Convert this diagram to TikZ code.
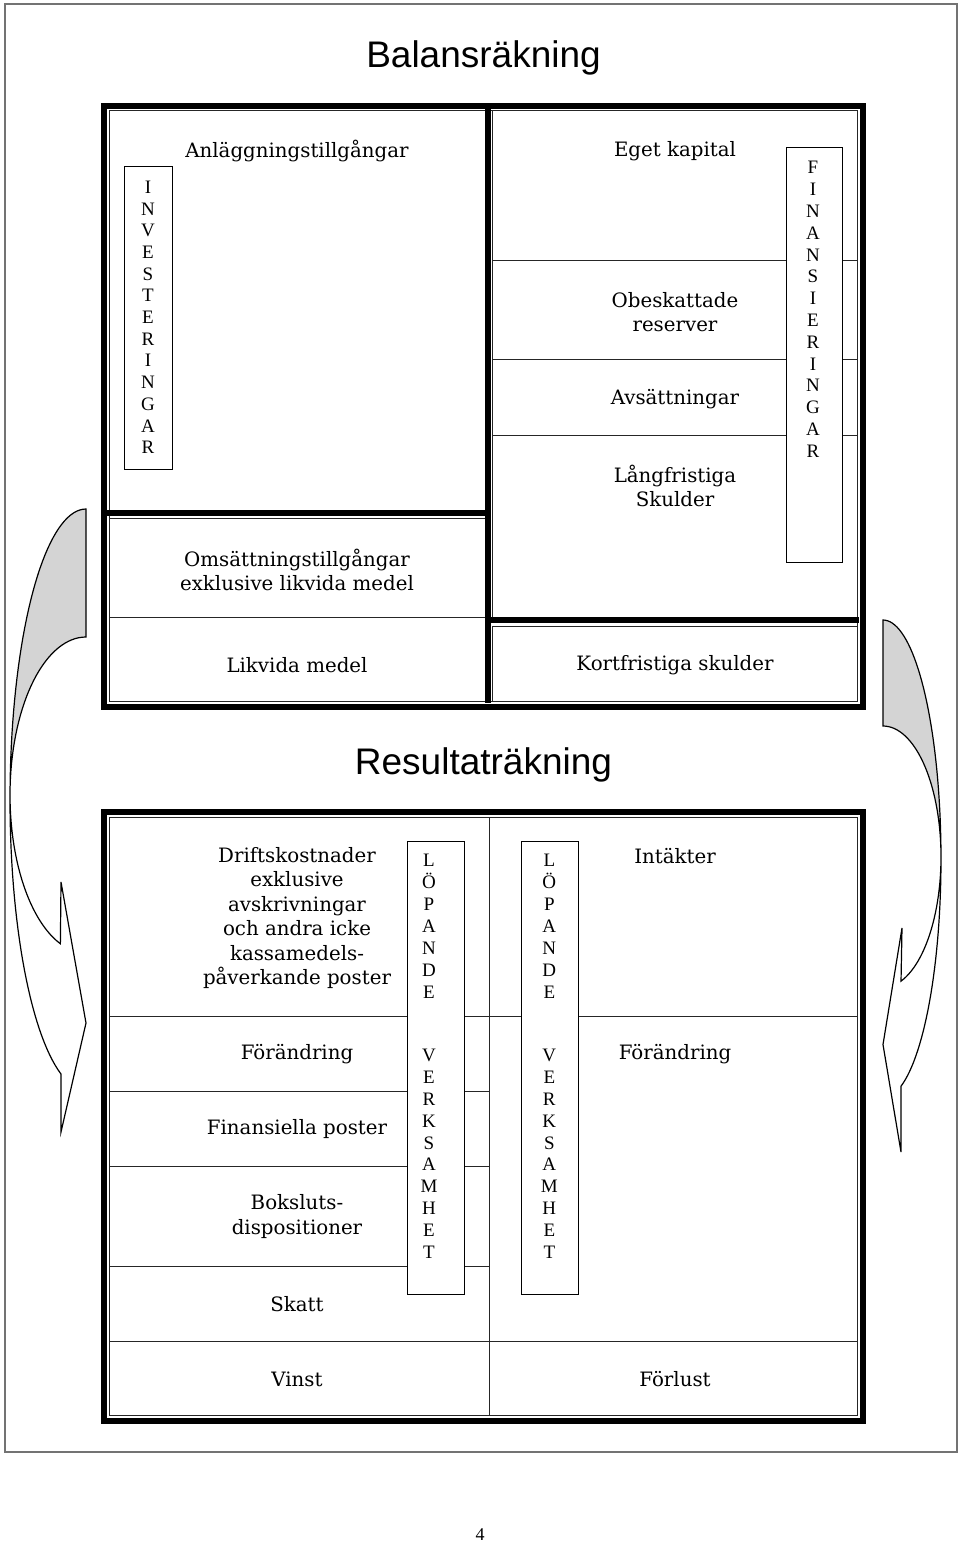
\documentclass[tikz,border=0pt]{standalone}
\usepackage{fontspec}
\setmainfont{DejaVu Serif}
\newfontfamily\headfont{Liberation Sans}
\newfontfamily\stackfont{Liberation Serif}
\tikzset{
  pageframe/.style={line width=1.5pt,black!55},
  thickrule/.style={line width=6pt,line join=miter},
  thinrule/.style={line width=0.9pt,black!85},
  cell/.style={font=\fontsize{19.8}{24.5}\selectfont,align=center,inner sep=0pt},
  heading/.style={font=\headfont\fontsize{37}{44}\selectfont,inner sep=0pt,anchor=base},
  stackbox/.style={draw,fill=white,line width=0.9pt},
  letter/.style={font=\stackfont\fontsize{19}{22}\selectfont,inner sep=0pt,anchor=base},
  bendarrow/.style={line width=1.2pt,line join=miter},
  arrowback/.style={fill=black!17},
}

\begin{document}
\begin{tikzpicture}[x=1pt,y=-1pt]
  \useasboundingbox (0,0) rectangle (960,1545);
  \draw[pageframe] (5,4) rectangle (957,1452);

  % ---- Balansräkning ----
  \node[heading] (titleBR) at (483.5,67) {Balansräkning};
  % thin inner rules
  \draw[thinrule] (109,110) -- (857,110) -- (857,701) -- (109,701) -- cycle;
  \draw[thinrule] (109,518) -- (485,518);
  \draw[thinrule] (109,617) -- (485,617);
  \draw[thinrule] (492.5,110) -- (492.5,617);
  \draw[thinrule] (492.5,626) -- (492.5,701) (492.5,626) -- (857,626);
  \foreach \y in {260,359.5,435}
    \draw[thinrule] (492.5,\y) -- (857,\y);
  % thick rules
  \draw[thickrule] (104,105.5) rectangle (862.5,706.5);
  \draw[thickrule] (487.5,108) -- (487.5,703);
  \draw[thickrule] (107,512.5) -- (485,512.5);
  \draw[thickrule] (490,620) -- (859,620);

  \node[cell] (anl)    at (297,151)   {Anläggningstillgångar};
  \node[cell] (eget)   at (675,151)   {Eget kapital};
  \node[cell] (obesk)  at (675,312)   {Obeskattade\\reserver};
  \node[cell] (avs)    at (675,399)   {Avsättningar};
  \node[cell] (langfr) at (675,486)   {Långfristiga\\Skulder};
  \node[cell] (omsatt) at (297,570)   {Omsättningstillgångar\\exklusive likvida medel};
  \node[cell] (likv)   at (297,665)   {Likvida medel};
  \node[cell] (kortfr) at (675,665)   {Kortfristiga skulder};

  % vertical letter boxes
  \draw[stackbox] (124,166.7) rectangle (172,469.3);
  \foreach \ch [count=\i] in {I,N,V,E,S,T,E,R,I,N,G,A,R}
    \node[letter] (inv\i) at (148,{193.3+21.7*(\i-1)}) {\ch};
  \draw[stackbox] (786,147.3) rectangle (842,562);
  \foreach \ch [count=\i] in {F,I,N,A,N,S,I,E,R,I,N,G,A,R}
    \node[letter] (fin\i) at (813,{173.9+21.8*(\i-1)}) {\ch};

  % ---- Resultaträkning ----
  \node[heading] (titleRR) at (483.5,774) {Resultaträkning};
  \draw[thinrule] (109,817) -- (857,817) -- (857,1415) -- (109,1415) -- cycle;
  \draw[thinrule] (489,817) -- (489,1415);
  \foreach \y in {1016,1341}
    \draw[thinrule] (109,\y) -- (857,\y);
  \foreach \y in {1091,1166,1266}
    \draw[thinrule] (109,\y) -- (489,\y);
  \draw[thickrule] (104,811.5) rectangle (863,1420.5);

  \node[cell] (drift)   at (297,918)    {Driftskostnader\\exklusive\\avskrivningar\\och andra icke\\kassamedels-\\påverkande poster};
  \node[cell] (intakt)  at (675,856)    {Intäkter};
  \node[cell] (forandL) at (297,1054)   {Förändring};
  \node[cell] (forandR) at (675,1054)   {Förändring};
  \node[cell] (finpost) at (297,1129)   {Finansiella poster};
  \node[cell] (boksl)   at (297,1216.5) {Boksluts-\\dispositioner};
  \node[cell] (skatt)   at (297,1304)   {Skatt};
  \node[cell] (vinst)   at (297,1379)   {Vinst};
  \node[cell] (forlust) at (675,1379)   {Förlust};

  % box centre / letter column
  \foreach \bx/\lx [count=\k] in {435.5/429,549.5/549.3}{
    \draw[stackbox] (\bx-28.5,841) rectangle (\bx+28.5,1294);
    \foreach \ch [count=\i] in {L,Ö,P,A,N,D,E}
      \node[letter] (lop\k\i) at (\lx,{866.6+21.95*(\i-1)}) {\ch};
    \foreach \ch [count=\i] in {V,E,R,K,S,A,M,H,E,T}
      \node[letter] (verk\k\i) at (\lx,{1061.6+21.85*(\i-1)}) {\ch};
  }

  % ---- return arrows ----
  % left: tail at top, head pointing right at the bottom
  \fill[arrowback] plot[domain=270:180,samples=40,variable=\t] ({86+76*cos(\t)},{799.6+290.6*sin(\t)})
    -- plot[domain=180:270,samples=40,variable=\t] ({86+76*cos(\t)},{795+158*sin(\t)}) -- cycle;
  \draw[bendarrow] plot[domain=270:109.2,samples=70,variable=\t] ({86+76*cos(\t)},{799.6+290.6*sin(\t)})
    -- (61,1132) -- (86,1023) -- (61,882)
    -- plot[domain=109.7:270,samples=60,variable=\t] ({86+76*cos(\t)},{795+158*sin(\t)}) -- cycle;
  % right: mirrored, head pointing left
  \fill[arrowback] plot[domain=270:360,samples=40,variable=\t] ({883+58*cos(\t)},{859+239*sin(\t)})
    -- plot[domain=360:270,samples=40,variable=\t] ({883+58*cos(\t)},{856.8+130.8*sin(\t)}) -- cycle;
  \draw[bendarrow] plot[domain=270:431.9,samples=70,variable=\t] ({883+58*cos(\t)},{859+239*sin(\t)})
    -- (901,1152) -- (883,1044.5) -- (902,928)
    -- plot[domain=431.9:270,samples=60,variable=\t] ({883+58*cos(\t)},{856.8+130.8*sin(\t)}) -- cycle;

  \node[font=\stackfont\fontsize{18}{22}\selectfont,inner sep=0pt] (pagenum) at (480,1535) {4};
\end{tikzpicture}
\end{document}
